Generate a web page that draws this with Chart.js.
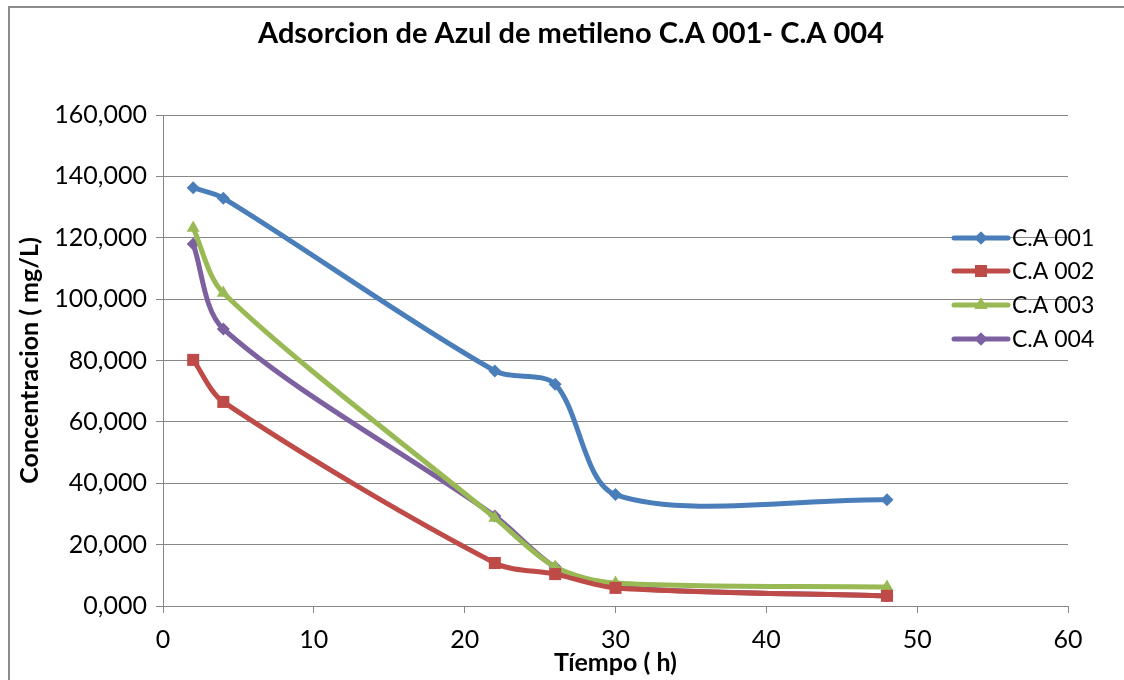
<!DOCTYPE html>
<html>
<head>
<meta charset="utf-8">
<script src="https://cdn.jsdelivr.net/npm/chart.js@4"></script>
<style>
  html, body { margin: 0; padding: 0; background: #ffffff; }
  #wrap { width: 1124px; height: 680px; position: relative; }
</style>
</head>
<body>
<div id="wrap"><canvas id="c" width="1124" height="680"></canvas></div>
<script>
// Sampling times (h)
const tiempos = [2, 4, 22, 26, 30, 48];

// Concentration of methylene blue for each activated carbon sample
const ca001 = [136.3, 132.9, 76.6, 72.3, 36.3, 34.6];
const ca002 = [80.2, 66.5, 14.0, 10.4, 5.9, 3.3];
const ca003 = [123.2, 102.0, 28.7, 12.7, 7.5, 6.2];
const ca004 = [118.0, 90.3, 29.3, 12.7, 6.2, 3.3];

const seriesNames = ['C.A 001', 'C.A 002', 'C.A 003', 'C.A 004'];
const seriesValues = [ca001, ca002, ca003, ca004];
const seriesColors = ['#4A7EBB', '#BE4B48', '#98B954', '#7D60A0'];
const seriesMarkers = ['rectRot', 'rect', 'triangle', 'rectRot'];
const markerSizes = [6.5, 8.5, 7.5, 6.5];

const chartTitle = 'Adsorcion de Azul de metileno C.A 001- C.A 004';

const FONT = 'Lato, "Liberation Sans", sans-serif';

const datasets = seriesNames.map((name, i) => ({
  label: name,
  data: tiempos.map((t, j) => ({ x: t, y: seriesValues[i][j] })),
  borderColor: seriesColors[i],
  backgroundColor: seriesColors[i],
  borderWidth: 5,
  pointStyle: seriesMarkers[i],
  pointRadius: markerSizes[i],
  pointBorderWidth: 0,
  tension: 0.3,
  fill: false
}));

// Outer frame and the chart heading
const framePlugin = {
  id: 'frame',
  beforeDraw(chart) {
    const ctx = chart.ctx;
    ctx.save();
    ctx.fillStyle = '#ffffff';
    ctx.fillRect(0, 0, chart.width, chart.height);
    ctx.strokeStyle = '#8c8c8c';
    ctx.lineWidth = 2;
    ctx.beginPath();
    ctx.moveTo(9, chart.height + 5);
    ctx.lineTo(9, 7);
    ctx.lineTo(chart.width + 5, 7);
    ctx.stroke();
    ctx.fillStyle = '#000000';
    ctx.font = 'bold 29px ' + FONT;
    ctx.textAlign = 'center';
    ctx.textBaseline = 'middle';
    ctx.fillText(chartTitle, 571, 34);
    ctx.restore();
  }
};

// Legend drawn on the right side, overlapping the plot area
const sideLegend = {
  id: 'sideLegend',
  afterDatasetsDraw(chart) {
    const ctx = chart.ctx;
    const rows = [238, 271, 305, 339];
    ctx.save();
    chart.data.datasets.forEach((ds, i) => {
      const y = rows[i];
      ctx.strokeStyle = ds.borderColor;
      ctx.lineWidth = 5;
      ctx.lineCap = 'round';
      ctx.beginPath();
      ctx.moveTo(954, y);
      ctx.lineTo(1008, y);
      ctx.stroke();
      ctx.fillStyle = ds.backgroundColor;
      Chart.helpers.drawPoint(ctx, {
        pointStyle: ds.pointStyle,
        radius: ds.pointRadius,
        borderWidth: 0,
        rotation: 0
      }, 981, y);
      ctx.fill();
      ctx.fillStyle = '#000000';
      ctx.font = '23px ' + FONT;
      ctx.textBaseline = 'middle';
      ctx.textAlign = 'left';
      ctx.fillText(ds.label, 1012, y + 1);
    });
    ctx.restore();
  }
};

new Chart(document.getElementById('c'), {
  type: 'line',
  data: { datasets },
  plugins: [framePlugin, sideLegend],
  options: {
    responsive: false,
    animation: false,
    devicePixelRatio: 1,
    layout: { padding: { left: 9, right: 56, top: 115, bottom: 0 } },
    plugins: {
      legend: { display: false },
      tooltip: { enabled: false },
      title: { display: false }
    },
    scales: {
      x: {
        type: 'linear',
        min: 0,
        max: 60,
        afterFit(scale) { scale.height = 74; },
        ticks: {
          stepSize: 10,
          color: '#000000',
          font: { family: FONT, size: 25 },
          padding: 12,
          maxRotation: 0
        },
        grid: {
          drawOnChartArea: false,
          drawTicks: true,
          tickLength: 7,
          color: '#868686'
        },
        border: { color: '#868686', width: 1 },
        title: {
          display: true,
          text: 'Tíempo ( h)',
          color: '#000000',
          font: { family: FONT, size: 25, weight: 'bold', lineHeight: 1.2 },
          padding: { top: 0, bottom: 2 }
        }
      },
      y: {
        min: 0,
        max: 160,
        afterFit(scale) { scale.width = 154; },
        ticks: {
          stepSize: 20,
          color: '#000000',
          font: { family: FONT, size: 25 },
          padding: 9,
          callback: (v) => v.toFixed(3).replace('.', ',')
        },
        grid: {
          color: '#868686',
          drawTicks: true,
          tickLength: 7
        },
        border: { color: '#868686', width: 1 },
        title: {
          display: true,
          text: 'Concentracion ( mg/L)',
          color: '#000000',
          font: { family: FONT, size: 25, weight: 'bold', lineHeight: 1.2 },
          padding: { top: 6, bottom: 0 }
        }
      }
    }
  }
});
</script>
</body>
</html>
